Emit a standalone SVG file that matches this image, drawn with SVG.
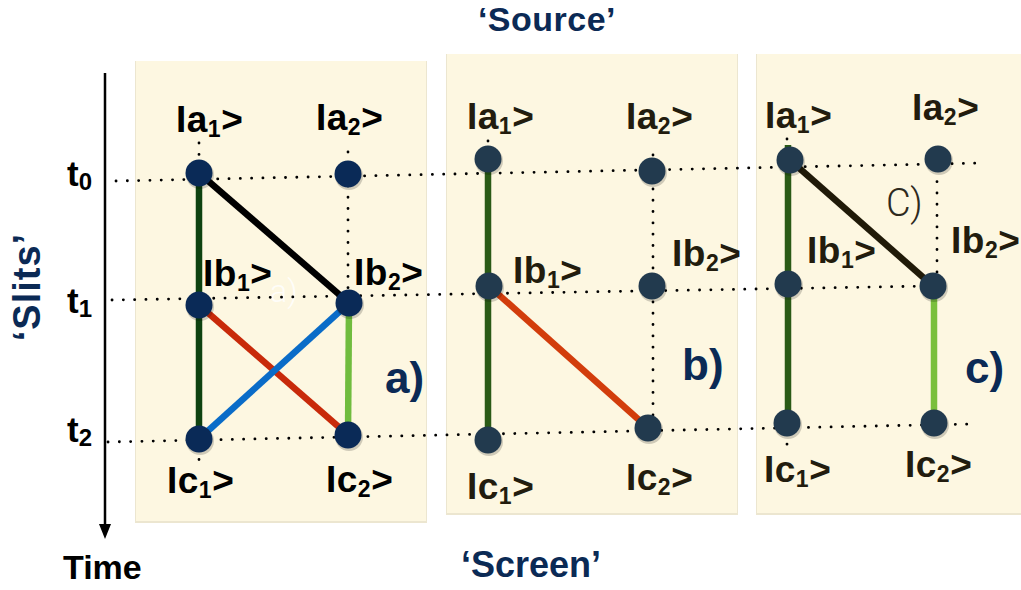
<svg xmlns="http://www.w3.org/2000/svg" width="1021" height="590" viewBox="0 0 1021 590">
<defs>
<style>
.lbl{font-family:"Liberation Sans",Arial,sans-serif;font-weight:bold;font-size:37px;letter-spacing:0.5px;fill:#000}
.lb2{fill:#221c0e}
.sub{font-size:23px}
.ttl{font-family:"Liberation Sans",Arial,sans-serif;font-weight:bold;fill:#0b2a55}
.tk{font-family:"Liberation Sans",Arial,sans-serif;font-weight:bold;font-size:35px;fill:#000}
.dot{stroke:#000;stroke-width:2.8;stroke-dasharray:0.1 11.2;stroke-linecap:round;fill:none}
.edge{stroke-width:6.5;fill:none}
.pan{fill:#fdf7e1}
.psh{fill:#ece6d0}
.na{fill:#0a2a57}
.nb{fill:#223a4e}
.ns{fill:#000;fill-opacity:0.18}
</style>
</defs>
<rect width="1021" height="590" fill="#fff"/>

<g id="panels">
<rect class="psh" x="135" y="61" width="292" height="462"/>
<rect class="psh" x="446" y="54" width="292" height="461"/>
<rect class="psh" x="756" y="54" width="265" height="461"/>
<rect class="pan" x="136" y="61" width="290" height="460"/>
<rect class="pan" x="447" y="54" width="290" height="459"/>
<rect class="pan" x="757" y="54" width="264" height="459"/>
</g>

<g id="titles">
<text class="ttl" x="547" y="31" font-size="34" text-anchor="middle" letter-spacing="0.5">‘Source’</text>
<text class="ttl" x="531" y="577" font-size="36" text-anchor="middle">‘Screen’</text>
<text class="ttl" x="40" y="287" font-size="38" text-anchor="middle" letter-spacing="1" transform="rotate(-90 40 287)">‘Slits’</text>
<text class="tk" x="63" y="579" style="font-size:34px">Time</text>
<text class="ttl" x="385" y="393" font-size="44">a)</text>
<text class="ttl" x="682" y="380" font-size="44">b)</text>
<text class="ttl" x="965" y="383" font-size="44">c)</text>
<text x="886" y="216" font-family="Roboto,'Liberation Sans',sans-serif" font-weight="300" font-size="38" fill="#2e2a1e">C)</text>
<text x="270" y="302" font-family="Roboto,'Liberation Sans',sans-serif" font-weight="300" font-size="32" fill="#fff" fill-opacity="0.85">a)</text>
</g>

<g id="time-axis">
<line x1="105" y1="73" x2="105" y2="526" stroke="#000" stroke-width="2.5"/>
<polygon points="99,524 111,524 105,539" fill="#000"/>
<text class="tk" x="67" y="186">t<tspan font-size="24" dy="4">0</tspan></text>
<text class="tk" x="67" y="313">t<tspan font-size="24" dy="4">1</tspan></text>
<text class="tk" x="67" y="442">t<tspan font-size="24" dy="4">2</tspan></text>
</g>

<g id="guides">
<line class="dot" x1="116" y1="181" x2="985" y2="163"/>
<line class="dot" x1="112" y1="300" x2="933" y2="286"/>
<line class="dot" x1="108" y1="442" x2="972" y2="424"/>
<line class="dot" x1="199" y1="143" x2="199" y2="460"/>
<line class="dot" x1="348" y1="152" x2="348" y2="456"/>
<line class="dot" x1="488" y1="141" x2="488" y2="440"/>
<line class="dot" x1="653" y1="155" x2="653" y2="447"/>
<line class="dot" x1="787" y1="139" x2="787" y2="445"/>
<line class="dot" x1="937" y1="159" x2="937" y2="286"/>
</g>

<g id="connectors">
<line class="edge" stroke="#0e4210" x1="199" y1="173" x2="199" y2="439"/>
<line class="edge" stroke="#000" x1="199" y1="173" x2="349" y2="303"/>
<line class="edge" stroke="#c82a0a" x1="199" y1="305" x2="348" y2="435"/>
<line class="edge" stroke="#0a6cc8" x1="199" y1="439" x2="349" y2="303"/>
<line class="edge" stroke="#70bc3e" x1="349" y1="303" x2="348" y2="435"/>
<line class="edge" stroke="#2a5a16" x1="488" y1="159" x2="488" y2="440"/>
<line class="edge" stroke="#d23d0c" x1="489" y1="286" x2="648" y2="428"/>
<line class="edge" stroke="#2a5a16" x1="788" y1="145" x2="788" y2="423"/>
<line class="edge" stroke="#201a08" x1="790" y1="160" x2="933" y2="286"/>
<line class="edge" stroke="#7abf3c" x1="934" y1="286" x2="934" y2="423"/>
</g>

<g id="a-a1"><circle class="ns" cx="200" cy="175" r="14"/><circle class="na" cx="199" cy="173" r="13.5"/><text class="lbl" x="176" y="132">Ia<tspan class="sub" dy="5">1</tspan><tspan dy="-5">&gt;</tspan></text></g>
<g id="a-a2"><circle class="ns" cx="349" cy="176" r="14"/><circle class="na" cx="348" cy="174" r="13.5"/><text class="lbl" x="316" y="130">Ia<tspan class="sub" dy="5">2</tspan><tspan dy="-5">&gt;</tspan></text></g>
<g id="a-b1"><circle class="ns" cx="200" cy="307" r="14"/><circle class="na" cx="199" cy="305" r="13.5"/><text class="lbl" x="203" y="286">Ib<tspan class="sub" dy="5">1</tspan><tspan dy="-5">&gt;</tspan></text></g>
<g id="a-b2"><circle class="ns" cx="350" cy="305" r="14"/><circle class="na" cx="349" cy="303" r="13.5"/><text class="lbl" x="354" y="285">Ib<tspan class="sub" dy="5">2</tspan><tspan dy="-5">&gt;</tspan></text></g>
<g id="a-c1"><circle class="ns" cx="200" cy="441" r="14"/><circle class="na" cx="199" cy="439" r="13.5"/><text class="lbl" x="167" y="493">Ic<tspan class="sub" dy="5">1</tspan><tspan dy="-5">&gt;</tspan></text></g>
<g id="a-c2"><circle class="ns" cx="349" cy="437" r="14"/><circle class="na" cx="348" cy="435" r="13.5"/><text class="lbl" x="326" y="492">Ic<tspan class="sub" dy="5">2</tspan><tspan dy="-5">&gt;</tspan></text></g>

<g id="b-a1"><circle class="ns" cx="489" cy="161" r="14"/><circle class="nb" cx="488" cy="159" r="13.5"/><text class="lbl lb2" x="467" y="129">Ia<tspan class="sub" dy="5">1</tspan><tspan dy="-5">&gt;</tspan></text></g>
<g id="b-a2"><circle class="ns" cx="653" cy="173" r="14"/><circle class="nb" cx="652" cy="171" r="13.5"/><text class="lbl lb2" x="626" y="129">Ia<tspan class="sub" dy="5">2</tspan><tspan dy="-5">&gt;</tspan></text></g>
<g id="b-b1"><circle class="ns" cx="490" cy="288" r="14"/><circle class="nb" cx="489" cy="286" r="13.5"/><text class="lbl lb2" x="513" y="283">Ib<tspan class="sub" dy="5">1</tspan><tspan dy="-5">&gt;</tspan></text></g>
<g id="b-b2"><circle class="ns" cx="653" cy="288" r="14"/><circle class="nb" cx="652" cy="286" r="13.5"/><text class="lbl lb2" x="672" y="266">Ib<tspan class="sub" dy="5">2</tspan><tspan dy="-5">&gt;</tspan></text></g>
<g id="b-c1"><circle class="ns" cx="489" cy="442" r="14"/><circle class="nb" cx="488" cy="440" r="13.5"/><text class="lbl lb2" x="467" y="499">Ic<tspan class="sub" dy="5">1</tspan><tspan dy="-5">&gt;</tspan></text></g>
<g id="b-c2"><circle class="ns" cx="649" cy="430" r="14"/><circle class="nb" cx="648" cy="428" r="13.5"/><text class="lbl lb2" x="626" y="490">Ic<tspan class="sub" dy="5">2</tspan><tspan dy="-5">&gt;</tspan></text></g>

<g id="c-a1"><circle class="ns" cx="791" cy="162" r="14"/><circle class="nb" cx="790" cy="160" r="13.5"/><text class="lbl lb2" x="765" y="128">Ia<tspan class="sub" dy="5">1</tspan><tspan dy="-5">&gt;</tspan></text></g>
<g id="c-a2"><circle class="ns" cx="939" cy="161" r="14"/><circle class="nb" cx="938" cy="159" r="13.5"/><text class="lbl lb2" x="912" y="120">Ia<tspan class="sub" dy="5">2</tspan><tspan dy="-5">&gt;</tspan></text></g>
<g id="c-b1"><circle class="ns" cx="789" cy="286" r="14"/><circle class="nb" cx="788" cy="284" r="13.5"/><text class="lbl lb2" x="807" y="263">Ib<tspan class="sub" dy="5">1</tspan><tspan dy="-5">&gt;</tspan></text></g>
<g id="c-b2"><circle class="ns" cx="934" cy="288" r="14"/><circle class="nb" cx="933" cy="286" r="13.5"/><text class="lbl lb2" x="951" y="253">Ib<tspan class="sub" dy="5">2</tspan><tspan dy="-5">&gt;</tspan></text></g>
<g id="c-c1"><circle class="ns" cx="788" cy="425" r="14"/><circle class="nb" cx="787" cy="423" r="13.5"/><text class="lbl lb2" x="764" y="482">Ic<tspan class="sub" dy="5">1</tspan><tspan dy="-5">&gt;</tspan></text></g>
<g id="c-c2"><circle class="ns" cx="935" cy="425" r="14"/><circle class="nb" cx="934" cy="423" r="13.5"/><text class="lbl lb2" x="905" y="477">Ic<tspan class="sub" dy="5">2</tspan><tspan dy="-5">&gt;</tspan></text></g>
</svg>
